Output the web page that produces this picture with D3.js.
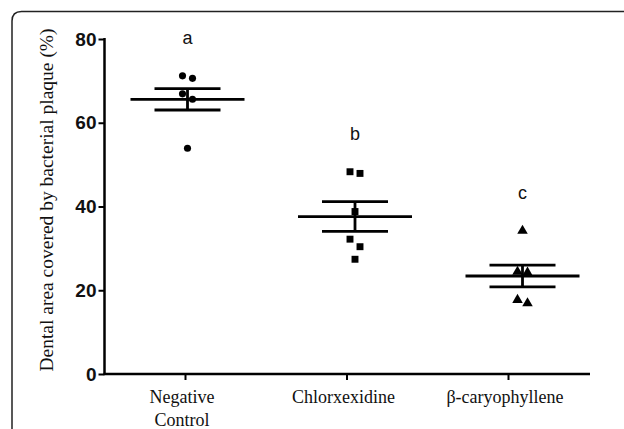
<!DOCTYPE html>
<html><head><meta charset="utf-8">
<script src="https://cdn.jsdelivr.net/npm/d3@7/dist/d3.min.js"></script>
<style>html,body{margin:0;padding:0;background:#fff;}svg{display:block;}</style>
</head><body>
<svg id="c" width="624" height="429"></svg>
<script>
const categories = ["Negative Control", "Chlorxexidine", "β-caryophyllene"];
const labelLines = [["Negative", "Control"], ["Chlorxexidine"], ["β-caryophyllene"]];
const groupLetters = ["a", "b", "c"];
const negativeControl = [70.6, 71.2, 65.6, 66.9, 53.9];
const chlorxexidine = [48.3, 47.9, 38.8, 32.2, 30.4, 27.4];
const caryophyllene = [34.2, 24.2, 24.4, 16.9, 17.7];
const means = [65.6, 37.6, 23.4];
const sems = [2.55, 3.55, 2.6];
const yTicks = [0, 20, 40, 60, 80];
const symbols = [d3.symbolCircle, d3.symbolSquare, d3.symbolTriangle];
const symbolSizes = [40, 48, 48];

const seriesValues = [negativeControl, chlorxexidine, caryophyllene];

const svg = d3.select("#c");

// frame with rounded top-left corner
svg.append("path")
  .attr("d", "M12,429 L12,21 Q12,11.5 21.5,11.5 L624,11.5")
  .attr("fill", "none").attr("stroke", "#222").attr("stroke-width", 1.5);

const y = d3.scaleLinear().domain([0, 80]).range([374, 39]);
const xTick = d3.scalePoint().domain(categories).range([185, 508]);
const xData = d3.scalePoint().domain(categories).range([187.5, 522.5]);

// Y axis
const yAxis = svg.append("g").attr("transform", "translate(104.5,0)")
  .call(d3.axisLeft(y).tickValues(yTicks).tickSize(6).tickPadding(2));
yAxis.select(".domain").attr("stroke", "#000").attr("stroke-width", 2.5)
  .attr("d", `M0,${y(80)-1}V${y(0)+1}`);
yAxis.selectAll(".tick line").attr("stroke", "#000").attr("stroke-width", 2);
yAxis.selectAll(".tick text").attr("font-family", "Liberation Sans, Arial, sans-serif")
  .attr("font-weight", "bold").attr("font-size", 19).attr("fill", "#111");

// X axis
const xAxis = svg.append("g").attr("transform", `translate(0,${y(0)})`)
  .call(d3.axisBottom(xTick).tickSize(6).tickFormat(""));
xAxis.select(".domain").attr("stroke", "#000").attr("stroke-width", 2.5)
  .attr("d", "M103.5,0H590");
xAxis.selectAll(".tick line").attr("stroke", "#000").attr("stroke-width", 2);

// X labels
categories.forEach((c, i) => {
  const t = svg.append("text").attr("text-anchor", "middle")
    .attr("font-family", "Liberation Serif, Times New Roman, serif")
    .attr("font-size", 18).attr("fill", "#111");
  labelLines[i].forEach((ln, j) => {
    t.append("tspan").attr("x", xTick(c) - 3).attr("y", 403 + j * 22.5).text(ln);
  });
});

// Y title
svg.append("text")
  .attr("transform", "translate(53,200) rotate(-90)")
  .attr("text-anchor", "middle")
  .attr("font-family", "Liberation Serif, Times New Roman, serif")
  .attr("font-size", 19.5).attr("fill", "#111")
  .text("Dental area covered by bacterial plaque (%)");

// points with simple pairing jitter
function offsets(vals) {
  const order = vals.map((v, i) => i).sort((a, b) => vals[b] - vals[a]);
  const off = new Array(vals.length).fill(0);
  let k = 0;
  while (k < order.length) {
    const a = order[k], b = order[k + 1];
    if (b !== undefined && Math.abs(y(vals[a]) - y(vals[b])) < 9) {
      off[a] = -5; off[b] = 5; k += 2;
    } else { off[a] = 0; k += 1; }
  }
  return off;
}

categories.forEach((c, i) => {
  const vals = seriesValues[i];
  const off = offsets(vals);
  const cx = xData(c);
  const g = svg.append("g");
  g.selectAll("path").data(vals).join("path")
    .attr("d", d3.symbol().type(symbols[i]).size(symbolSizes[i]))
    .attr("transform", (d, j) => `translate(${cx + off[j]},${y(d)})`)
    .attr("fill", "#000");
  // mean and SEM
  const m = means[i], s = sems[i];
  g.append("line").attr("x1", cx - 57).attr("x2", cx + 57).attr("y1", y(m)).attr("y2", y(m))
    .attr("stroke", "#000").attr("stroke-width", 2.8);
  g.append("line").attr("x1", cx - 33).attr("x2", cx + 33).attr("y1", y(m + s)).attr("y2", y(m + s))
    .attr("stroke", "#000").attr("stroke-width", 2.8);
  g.append("line").attr("x1", cx - 33).attr("x2", cx + 33).attr("y1", y(m - s)).attr("y2", y(m - s))
    .attr("stroke", "#000").attr("stroke-width", 2.8);
  g.append("line").attr("x1", cx).attr("x2", cx).attr("y1", y(m + s)).attr("y2", y(m - s))
    .attr("stroke", "#000").attr("stroke-width", 2.8);
  // letter
  const top = d3.max(vals);
  svg.append("text").attr("x", cx).attr("y", y(top) - 32)
    .attr("text-anchor", "middle")
    .attr("font-family", "Liberation Sans, Arial, sans-serif")
    .attr("font-size", 18).attr("fill", "#111").text(groupLetters[i]);
});
</script>
</body></html>
